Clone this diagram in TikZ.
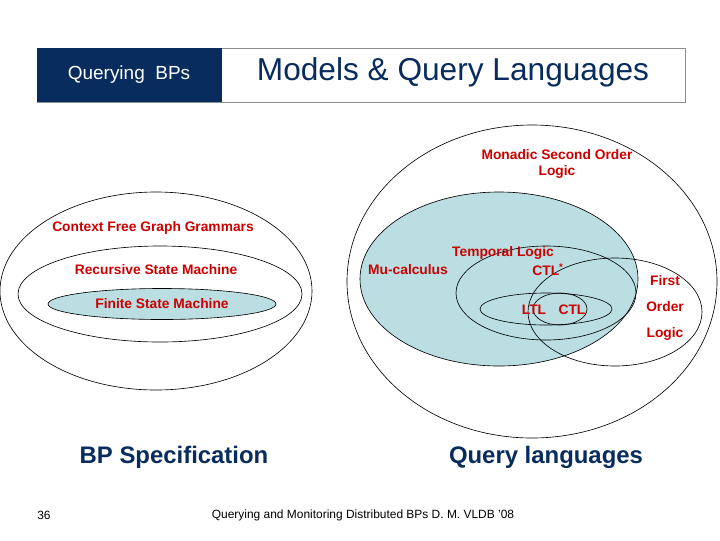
\documentclass[tikz,border=0pt]{standalone}
\usepackage{fontspec}
\setmainfont{Liberation Sans}
\usepackage{tikz}

\definecolor{navy}{RGB}{8,44,94}
\definecolor{lred}{RGB}{204,0,0}
\definecolor{pale}{RGB}{186,222,226}

\begin{document}
\begin{tikzpicture}[
  x=0.025cm,y=-0.025cm,
  set/.style={draw=black,line width=0.45pt},
  setfill/.style={set,fill=pale},
  lbl/.style={text=lred,font=\fontsize{9.8}{12}\selectfont\bfseries,inner sep=0pt,align=center},
  caption/.style={text=navy,font=\fontsize{17}{20}\selectfont\bfseries,inner sep=0pt}
]
\useasboundingbox[fill=white] (0,0) rectangle (720,540);

% header
\draw[draw=black!45,fill=white] (37,48) rectangle (685,102);
\fill[navy] (37,48) rectangle (222,102);
\node[text=white,font=\fontsize{13.5}{16}\selectfont] (section) at (129,75) {Querying\ \ BPs};
\node[text=navy,font=\fontsize{22.5}{26}\selectfont] (title) at (453,72) {Models \& Query Languages};

% BP specification side
\draw[set] (156,291) ellipse [x radius=156,y radius=99];
\draw[set] (160,294) ellipse [x radius=142,y radius=48];
\draw[setfill] (162,304) ellipse [x radius=114,y radius=15.5];

\node[lbl] (cfgg) at (153,228) {Context Free Graph Grammars};
\node[lbl] (rsm) at (156,270) {Recursive State Machine};
\node[lbl] (fsm) at (162,304) {Finite State Machine};

% query language side
\draw[set] (532,281.5) ellipse [x radius=185,y radius=156.5];
\draw[setfill] (499,279) ellipse [x radius=139,y radius=87];
\draw[set] (546,293) ellipse [x radius=90,y radius=47];
\draw[set] (546,309) ellipse [x radius=66,y radius=16];
\draw[set] (560,309) ellipse [x radius=27,y radius=16];
\draw[set] (615,312) ellipse [x radius=87,y radius=54];

\node[lbl] (mso) at (557,164) {Monadic Second Order\\Logic};
\node[lbl] (temporal) at (503,253) {Temporal Logic};
\node[lbl] (mu) at (408,270) {Mu-calculus};
\node[lbl] (ctlstar) at (548,270) {CTL\textsuperscript{*}};
\node[lbl] (ltl) at (534,310) {LTL};
\node[lbl] (ctl) at (572,310) {CTL};
\node[lbl,font=\fontsize{9.8}{18.3}\selectfont\bfseries] (fo) at (665,308) {First\\Order\\Logic};

% captions
\node[caption] (bpspec) at (174,457) {BP Specification};
\node[caption] (querylang) at (546,457) {Query languages};

% footer
\node[font=\fontsize{8.5}{10}\selectfont] (page) at (44,515) {36};
\node[font=\fontsize{8.5}{10}\selectfont] (footer) at (363,515) {Querying and Monitoring Distributed BPs D. M. VLDB '08};
\end{tikzpicture}
\end{document}
